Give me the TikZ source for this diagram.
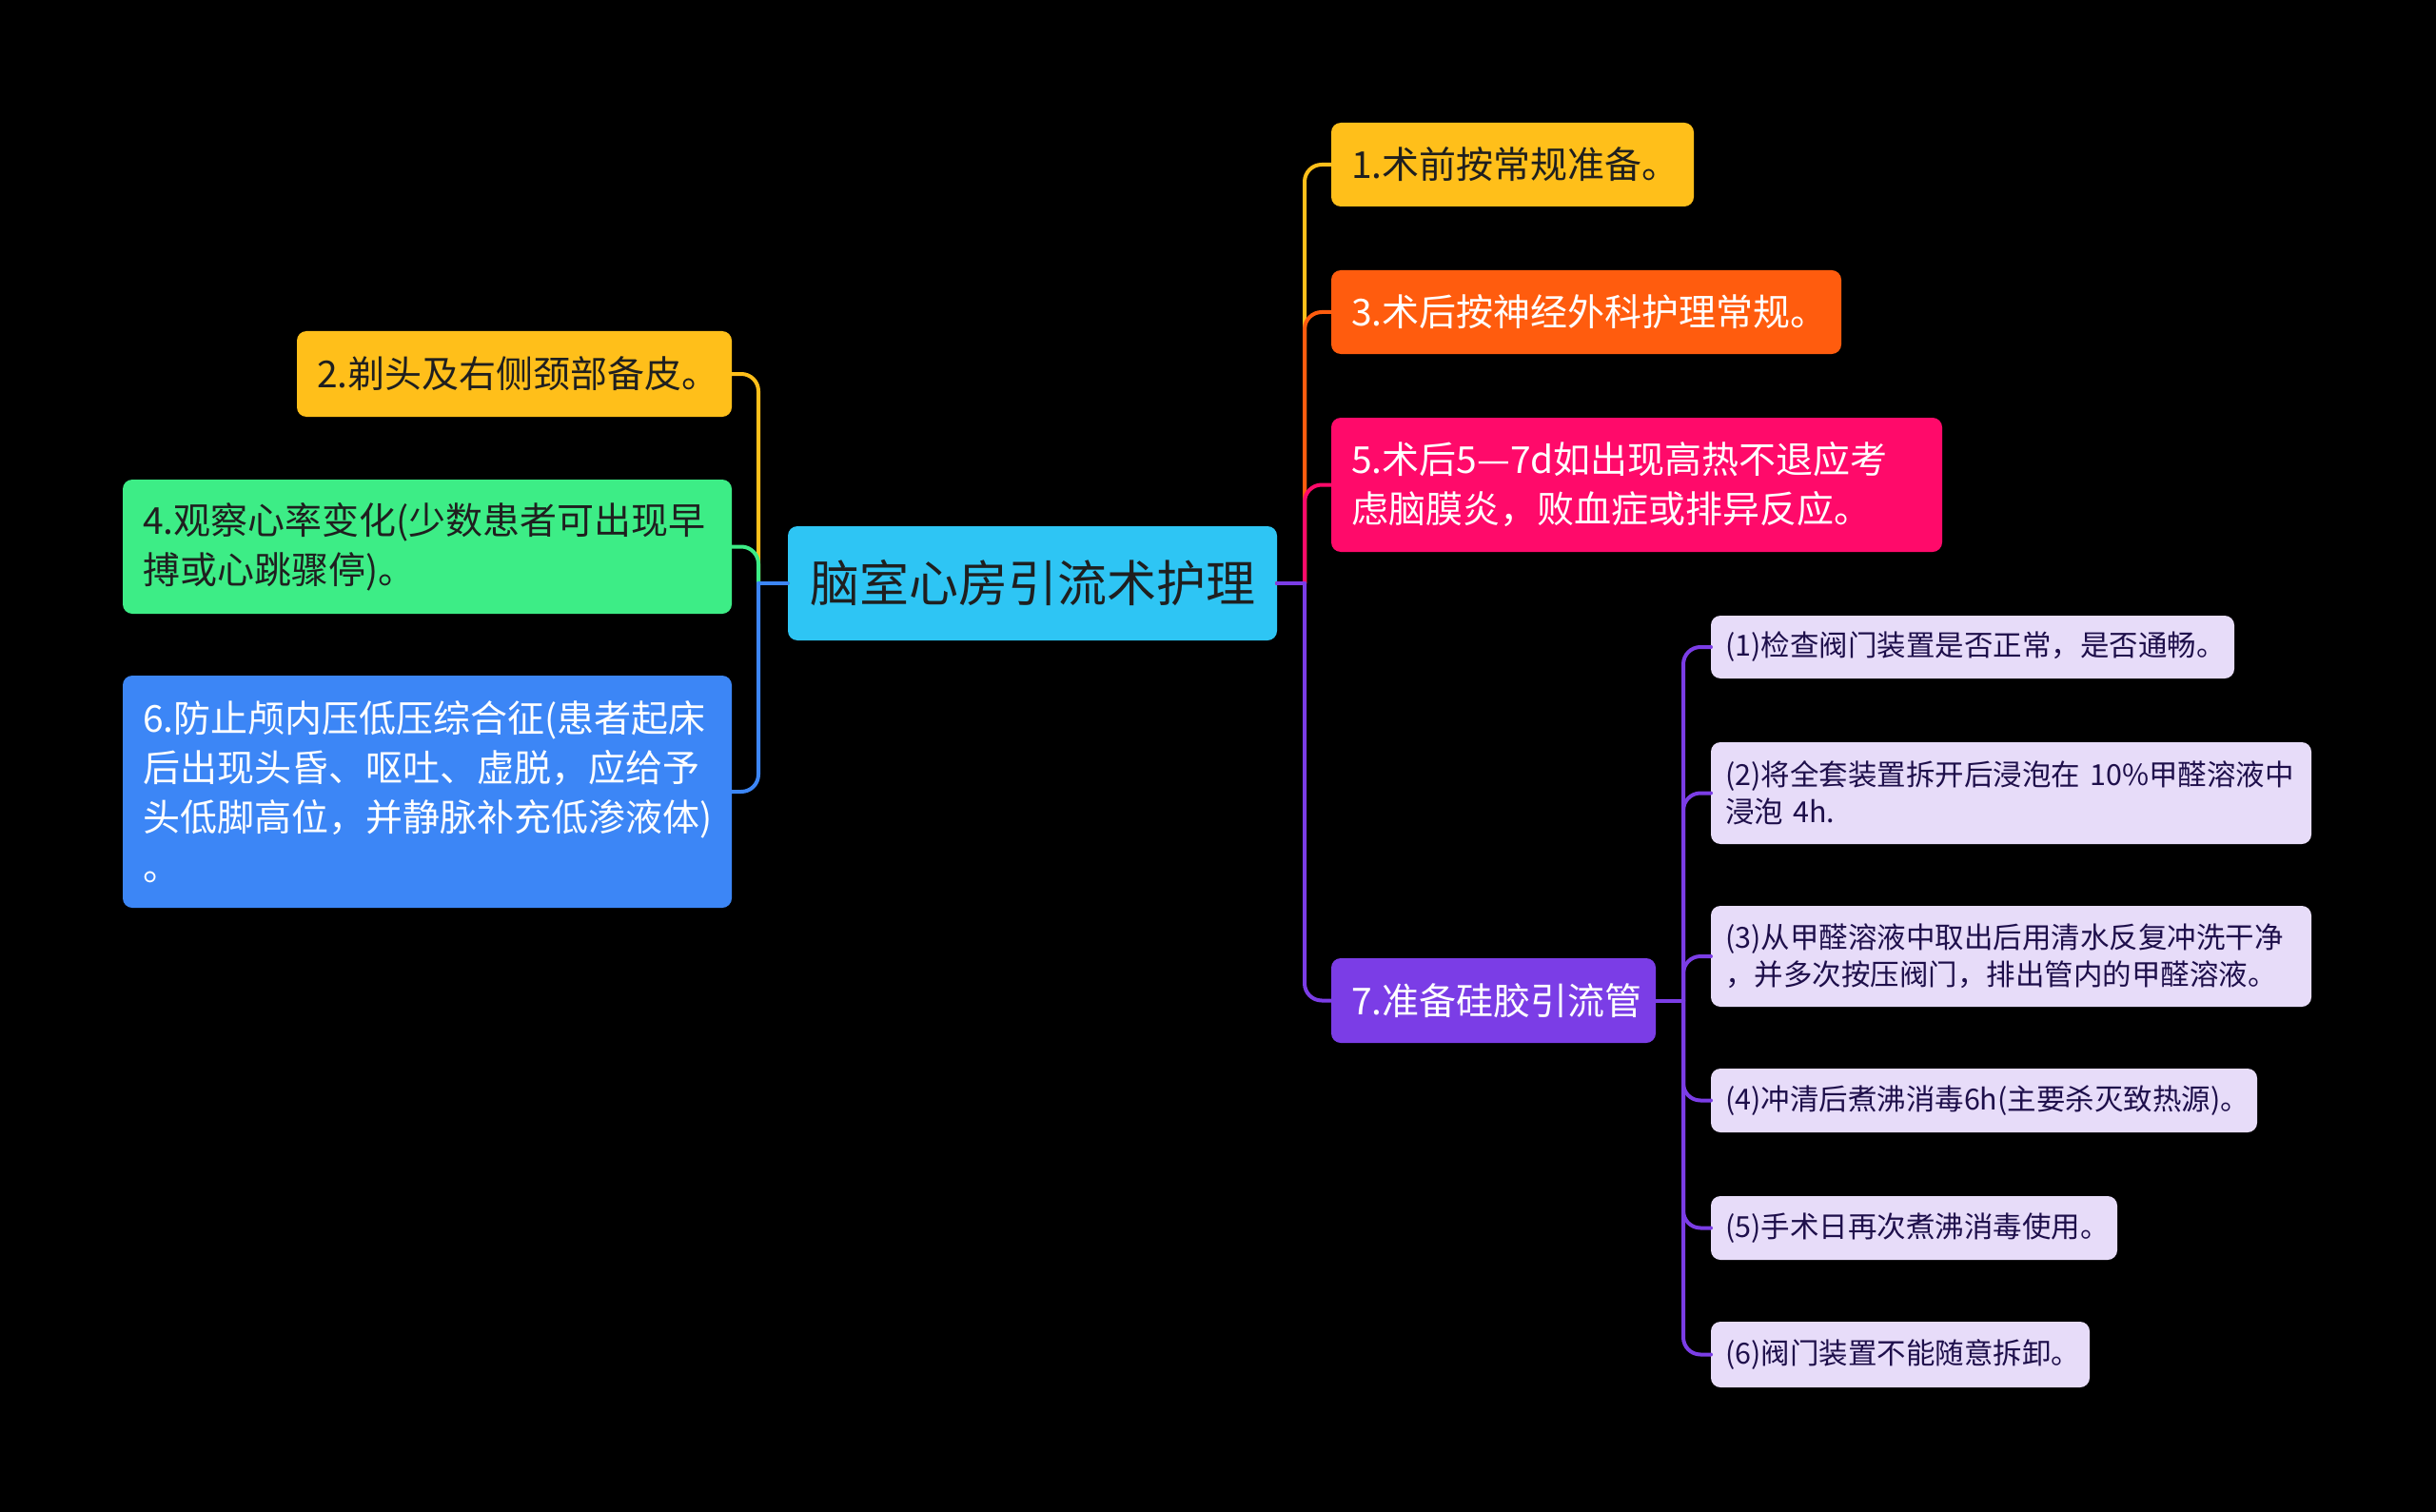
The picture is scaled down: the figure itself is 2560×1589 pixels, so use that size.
\documentclass[tikz,border=0pt]{standalone}
\usepackage{fontspec}
\setmainfont{Noto Sans CJK SC}
\definecolor{cCyan}{HTML}{2EC5F4}
\definecolor{cYel}{HTML}{FFBF1A}
\definecolor{cOra}{HTML}{FF5C0E}
\definecolor{cPink}{HTML}{FF0A6A}
\definecolor{cPur}{HTML}{7B3DE6}
\definecolor{cGrn}{HTML}{3DED86}
\definecolor{cBlu}{HTML}{3C86F6}
\definecolor{cLav}{HTML}{E7DCF9}
\definecolor{cDark}{HTML}{1F1F1F}
\definecolor{cSubTxt}{HTML}{1E0F4B}
\begin{document}
\begin{tikzpicture}[x=1pt,y=-1pt,
  box/.style={rounded corners=10pt, inner xsep=21pt, inner ysep=0pt, outer sep=0pt, align=left,
    font=\fontsize{39}{52}\selectfont},
  subbox/.style={rounded corners=10pt, inner xsep=15pt, inner ysep=0pt, outer sep=0pt, align=left,
    fill=cLav, text=cSubTxt, font=\fontsize{30.5}{39}\selectfont},
  rootbox/.style={rounded corners=10pt, inner sep=0pt, outer sep=0pt, align=center,
    fill=cCyan, text=cDark, font=\fontsize{52}{62}\selectfont},
  conn/.style={line width=4pt, line cap=round},
  elbow/.style={line width=4pt, line cap=round, rounded corners=18pt}]
\fill[black] (0,0) rectangle (2560,1589);
\useasboundingbox (0,0) rectangle (2560,1589);

\coordinate (busL) at (797,0);
\coordinate (busR) at (1371,0);
\coordinate (busS) at (1769,0);

% root
\node[rootbox, minimum width=514pt, minimum height=120pt] (root) at (1085,613) {脑室心房引流术护理};

% right level 1
\node[box, fill=cYel, text=cDark, text width=339pt, minimum height=88pt] (n1) at (1589.5,173) {1.术前按常规准备。};
\node[box, fill=cOra, text=white, text width=494pt, minimum height=88pt] (n3) at (1667,328) {3.术后按神经外科护理常规。};
\node[box, fill=cPink, text=white, text width=600pt, minimum height=141pt] (n5) at (1720,509.5) {5.术后5—7d如出现高热不退应考\\虑脑膜炎，败血症或排异反应。};
\node[box, fill=cPur, text=white, text width=299pt, minimum height=89pt] (n7) at (1569.5,1051.5) {7.准备硅胶引流管};

% left level 1
\node[box, fill=cYel, text=cDark, text width=415pt, minimum height=90pt] (n2) at (540.5,393) {2.剃头及右侧颈部备皮。};
\node[box, fill=cGrn, text=cDark, text width=598pt, minimum height=141pt] (n4) at (449,574.5) {4.观察心率变化(少数患者可出现早\\搏或心跳骤停)。};
\node[box, fill=cBlu, text=white, text width=598pt, minimum height=244pt] (n6) at (449,832) {6.防止颅内压低压综合征(患者起床\\后出现头昏、呕吐、虚脱，应给予\\头低脚高位，并静脉补充低渗液体)\\。};

% sub nodes
\node[subbox, text width=520pt, minimum height=66pt] (s1) at (2073,680) {(1)检查阀门装置是否正常，是否通畅。};
\node[subbox, text width=601pt, minimum height=107pt] (s2) at (2113.5,833.5) {(2)将全套装置拆开后浸泡在 10\%甲醛溶液中\\浸泡 4h.};
\node[subbox, text width=601pt, minimum height=106pt] (s3) at (2113.5,1005) {(3)从甲醛溶液中取出后用清水反复冲洗干净\\，并多次按压阀门，排出管内的甲醛溶液。};
\node[subbox, text width=544pt, minimum height=67pt] (s4) at (2085,1156.5) {(4)冲清后煮沸消毒6h(主要杀灭致热源)。};
\node[subbox, text width=397pt, minimum height=67pt] (s5) at (2011.5,1290.5) {(5)手术日再次煮沸消毒使用。};
\node[subbox, text width=368pt, minimum height=69pt] (s6) at (1997,1423.5) {(6)阀门装置不能随意拆卸。};

% left connectors
\foreach \n/\c in {n2/cYel, n4/cGrn, n6/cBlu}{
  \draw[conn, \c] (root.west) -- (root.west -| busL);
  \draw[elbow, \c] (root.west -| busL) -- (busL |- \n.east) -- (\n.east);
}
% right connectors
\foreach \n/\c in {n1/cYel, n3/cOra, n5/cPink, n7/cPur}{
  \draw[conn, \c] (root.east) -- (root.east -| busR);
  \draw[elbow, \c] (root.east -| busR) -- (busR |- \n.west) -- (\n.west);
}
% sub connectors
\foreach \n in {s1,s2,s3,s4,s5,s6}{
  \draw[conn, cPur] (n7.east) -- (n7.east -| busS);
  \draw[elbow, cPur] (n7.east -| busS) -- (busS |- \n.west) -- (\n.west);
}
\end{tikzpicture}
\end{document}
